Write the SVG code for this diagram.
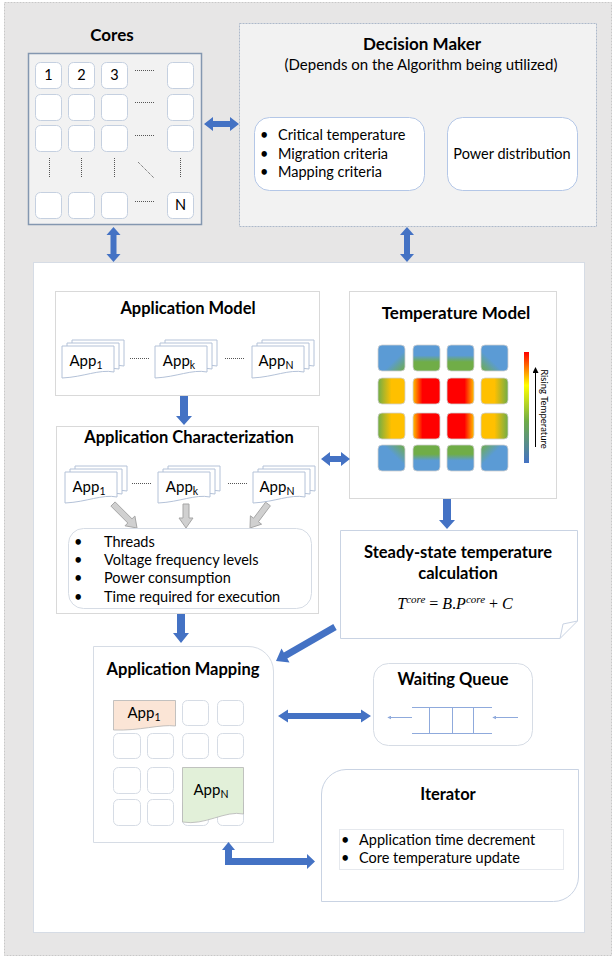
<svg xmlns="http://www.w3.org/2000/svg" width="616" height="961" viewBox="0 0 616 961">
<style>
text{font-family:Lato,"Open Sans","Liberation Sans",sans-serif;fill:#000}
.t{font-size:16.5px;font-weight:bold;text-anchor:middle}
.b{font-size:14.5px}
.c{text-anchor:middle}
.cell{fill:#fff;stroke:#c5d0e0;stroke-width:1}
.mcell{fill:#fff;stroke:#d6dce5;stroke-width:1}
.doc{fill:#fff;stroke:#b4c2d8;stroke-width:1}
.dot{stroke:#555;stroke-width:1;stroke-dasharray:1 1;fill:none}
.arr{fill:#4472c4}
.garr{fill:#d0d0d0;stroke:#a6a6a6;stroke-width:1}
.tc{stroke:#d0d0d0;stroke-width:0.8}
.q{stroke:#8faadc;stroke-width:1;fill:none}
</style>
<defs>
<linearGradient id="gTL" x1="0" y1="0" x2="1" y2="1"><stop offset="0.6" stop-color="#5b9bd5"/><stop offset="1" stop-color="#70ad47"/></linearGradient>
<linearGradient id="gTR" x1="1" y1="0" x2="0" y2="1"><stop offset="0.6" stop-color="#5b9bd5"/><stop offset="1" stop-color="#70ad47"/></linearGradient>
<linearGradient id="gBL" x1="0" y1="1" x2="1" y2="0"><stop offset="0.6" stop-color="#5b9bd5"/><stop offset="1" stop-color="#70ad47"/></linearGradient>
<linearGradient id="gBR" x1="1" y1="1" x2="0" y2="0"><stop offset="0.6" stop-color="#5b9bd5"/><stop offset="1" stop-color="#70ad47"/></linearGradient>
<linearGradient id="gTop" x1="0" y1="0" x2="0" y2="1"><stop offset="0.4" stop-color="#5b9bd5"/><stop offset="0.65" stop-color="#70ad47"/></linearGradient>
<linearGradient id="gBot" x1="0" y1="0" x2="0" y2="1"><stop offset="0.35" stop-color="#70ad47"/><stop offset="0.6" stop-color="#5b9bd5"/></linearGradient>
<linearGradient id="gGY" x1="0" y1="0" x2="1" y2="0"><stop offset="0" stop-color="#70ad47"/><stop offset="0.5" stop-color="#ffc000"/></linearGradient>
<linearGradient id="gYG" x1="0" y1="0" x2="1" y2="0"><stop offset="0.5" stop-color="#ffc000"/><stop offset="1" stop-color="#70ad47"/></linearGradient>
<linearGradient id="gOR" x1="0" y1="0" x2="1" y2="0"><stop offset="0" stop-color="#ffc000"/><stop offset="0.35" stop-color="#ff0000"/></linearGradient>
<linearGradient id="gRO" x1="0" y1="0" x2="1" y2="0"><stop offset="0.65" stop-color="#ff0000"/><stop offset="1" stop-color="#ffc000"/></linearGradient>
<linearGradient id="gBar" x1="0" y1="0" x2="0" y2="1"><stop offset="0" stop-color="#ff0000"/><stop offset="0.3" stop-color="#ffff00"/><stop offset="0.62" stop-color="#70ad47"/><stop offset="1" stop-color="#4472c4"/></linearGradient>
<marker id="mh" viewBox="0 0 6 6" refX="5" refY="3" markerWidth="6" markerHeight="6" orient="auto"><path d="M0,0 L6,3 L0,6 Z" fill="#000"/></marker>
<marker id="mq" viewBox="0 0 6 6" refX="5" refY="3" markerWidth="4" markerHeight="4" orient="auto"><path d="M0,0 L6,3 L0,6 Z" fill="#8faadc"/></marker>
</defs>

<!-- outer background -->
<rect x="4.5" y="2.5" width="607" height="953" fill="#e7e6e6" stroke="#c8c8c8" stroke-dasharray="2 1"/>
<rect x="33.5" y="262.5" width="551" height="670" fill="#fff" stroke="#d6dce5"/>

<g id="cores">
<text class="t" x="112" y="41" style="font-size:17px">Cores</text>
<rect x="28.5" y="53.5" width="173" height="171" fill="#f2f2f2" stroke="#8497b0" stroke-width="1.5"/>
<rect class="cell" x="35.5" y="62.5" width="26" height="26" rx="5"/>
<rect class="cell" x="68.5" y="62.5" width="26" height="26" rx="5"/>
<rect class="cell" x="101.5" y="62.5" width="26" height="26" rx="5"/>
<rect class="cell" x="167.5" y="62.5" width="26" height="26" rx="5"/>
<rect class="cell" x="35.5" y="94.5" width="26" height="26" rx="5"/>
<rect class="cell" x="68.5" y="94.5" width="26" height="26" rx="5"/>
<rect class="cell" x="101.5" y="94.5" width="26" height="26" rx="5"/>
<rect class="cell" x="167.5" y="94.5" width="26" height="26" rx="5"/>
<rect class="cell" x="35.5" y="125.5" width="26" height="26" rx="5"/>
<rect class="cell" x="68.5" y="125.5" width="26" height="26" rx="5"/>
<rect class="cell" x="101.5" y="125.5" width="26" height="26" rx="5"/>
<rect class="cell" x="167.5" y="125.5" width="26" height="26" rx="5"/>
<rect class="cell" x="35.5" y="192.5" width="26" height="26" rx="5"/>
<rect class="cell" x="68.5" y="192.5" width="26" height="26" rx="5"/>
<rect class="cell" x="101.5" y="192.5" width="26" height="26" rx="5"/>
<rect class="cell" x="167.5" y="192.5" width="26" height="26" rx="5"/>
<text class="b c" x="48.5" y="80">1</text>
<text class="b c" x="81.5" y="80">2</text>
<text class="b c" x="114.5" y="80">3</text>
<text class="b c" x="180.5" y="210">N</text>
<path class="dot" d="M135,70.5 H155 M135,102.5 H155 M135,135.5 H155 M135,201.5 H155 M49.5,158 V178 M81.5,158 V178 M114.5,158 V178 M180.5,158 V178 M138,162 L154,178"/>
</g>

<g id="decision-maker">
<rect x="239.5" y="23.5" width="357" height="203" fill="#f2f2f2" stroke="#adb9ca" stroke-dasharray="2 1"/>
<text class="t" x="422" y="50" style="font-size:17px">Decision Maker</text>
<text class="b c" x="421" y="70" style="font-size:15px">(Depends on the Algorithm being utilized)</text>
<rect x="254.5" y="117.5" width="170" height="73" rx="15" fill="#fff" stroke="#b4c7e7"/>
<text class="b" x="260" y="140">•</text><text class="b" x="278" y="140">Critical temperature</text>
<text class="b" x="260" y="159">•</text><text class="b" x="278" y="159">Migration criteria</text>
<text class="b" x="260" y="177">•</text><text class="b" x="278" y="177">Mapping criteria</text>
<rect x="447.5" y="117.5" width="130" height="73" rx="15" fill="#fff" stroke="#b4c7e7"/>
<text class="b c" x="512" y="159">Power distribution</text>
</g>

<g id="application-model">
<rect x="55.5" y="291.5" width="264" height="104" fill="#fff" stroke="#d9d9d9"/>
<text class="t" x="188" y="314">Application Model</text>
<g transform="translate(62,346)">
<path class="doc" d="M10,-6 h52 v26 c-15,-3 -30,5 -52,4 z"/>
<path class="doc" d="M5,-3 h52 v26 c-15,-3 -30,5 -52,4 z"/>
<path class="doc" d="M0,0 h52 v26 c-15,-3 -30,5 -52,6 z"/>
<text class="b c" x="24" y="20" style="font-size:15px">App<tspan font-size="10.5" dy="3">1</tspan></text>
</g>
<g transform="translate(155,346)">
<path class="doc" d="M10,-6 h52 v26 c-15,-3 -30,5 -52,4 z"/>
<path class="doc" d="M5,-3 h52 v26 c-15,-3 -30,5 -52,4 z"/>
<path class="doc" d="M0,0 h52 v26 c-15,-3 -30,5 -52,6 z"/>
<text class="b c" x="24" y="20" style="font-size:15px">App<tspan font-size="10.5" dy="3">k</tspan></text>
</g>
<g transform="translate(252,346)">
<path class="doc" d="M10,-6 h52 v26 c-15,-3 -30,5 -52,4 z"/>
<path class="doc" d="M5,-3 h52 v26 c-15,-3 -30,5 -52,4 z"/>
<path class="doc" d="M0,0 h52 v26 c-15,-3 -30,5 -52,6 z"/>
<text class="b c" x="24" y="20" style="font-size:15px">App<tspan font-size="10.5" dy="3">N</tspan></text>
</g>
<path class="dot" d="M130,358.5 H149 M225,358.5 H244"/>
</g>

<g id="application-characterization">
<rect x="56.5" y="426.5" width="262" height="187" fill="#fff" stroke="#d9d9d9"/>
<text class="t" x="189" y="443">Application Characterization</text>
<g transform="translate(65,472)">
<path class="doc" d="M10,-6 h52 v25 c-15,-3 -30,5 -52,4 z"/>
<path class="doc" d="M5,-3 h52 v25 c-15,-3 -30,5 -52,4 z"/>
<path class="doc" d="M0,0 h52 v25 c-15,-3 -30,5 -52,6 z"/>
<text class="b c" x="24" y="20" style="font-size:15px">App<tspan font-size="10.5" dy="3">1</tspan></text>
</g>
<g transform="translate(158,472)">
<path class="doc" d="M10,-6 h52 v25 c-15,-3 -30,5 -52,4 z"/>
<path class="doc" d="M5,-3 h52 v25 c-15,-3 -30,5 -52,4 z"/>
<path class="doc" d="M0,0 h52 v25 c-15,-3 -30,5 -52,6 z"/>
<text class="b c" x="24" y="20" style="font-size:15px">App<tspan font-size="10.5" dy="3">k</tspan></text>
</g>
<g transform="translate(253,472)">
<path class="doc" d="M10,-6 h52 v25 c-15,-3 -30,5 -52,4 z"/>
<path class="doc" d="M5,-3 h52 v25 c-15,-3 -30,5 -52,4 z"/>
<path class="doc" d="M0,0 h52 v25 c-15,-3 -30,5 -52,6 z"/>
<text class="b c" x="24" y="20" style="font-size:15px">App<tspan font-size="10.5" dy="3">N</tspan></text>
</g>
<path class="dot" d="M132,483.5 H152 M228,483.5 H247"/>
<polygon class="garr" points="115.1,501.9 132,518.8 134.9,516 137,528 125,525.8 127.8,523 110.9,506.1"/>
<polygon class="garr" points="183,504 189,504 189,518 193,518 186,528 179,518 183,518"/>
<polygon class="garr" points="265.6,502.2 270.4,505.8 258.4,521.8 261.6,524.2 250,528 250.4,515.8 253.6,518.2"/>
<rect x="68.5" y="528.5" width="243" height="80" rx="15" fill="#fff" stroke="#d6dce5"/>
<text class="b" x="74" y="547">•</text><text class="b" x="104" y="547">Threads</text>
<text class="b" x="74" y="565">•</text><text class="b" x="104" y="565">Voltage frequency levels</text>
<text class="b" x="74" y="583">•</text><text class="b" x="104" y="583">Power consumption</text>
<text class="b" x="74" y="602">•</text><text class="b" x="104" y="602">Time required for execution</text>
</g>

<g id="temperature-model">
<rect x="349.5" y="291.5" width="207" height="207" fill="#fff" stroke="#d9d9d9"/>
<text class="t" x="456" y="319" style="font-size:17px">Temperature Model</text>
<rect class="tc" x="378" y="345" width="27" height="26" rx="4" fill="url(#gTL)"/>
<rect class="tc" x="413" y="345" width="27" height="26" rx="4" fill="url(#gTop)"/>
<rect class="tc" x="447" y="345" width="27" height="26" rx="4" fill="url(#gTop)"/>
<rect class="tc" x="481" y="345" width="27" height="26" rx="4" fill="url(#gTR)"/>
<rect class="tc" x="378" y="378" width="27" height="26" rx="4" fill="url(#gGY)"/>
<rect class="tc" x="413" y="378" width="27" height="26" rx="4" fill="url(#gOR)"/>
<rect class="tc" x="447" y="378" width="27" height="26" rx="4" fill="url(#gRO)"/>
<rect class="tc" x="481" y="378" width="27" height="26" rx="4" fill="url(#gYG)"/>
<rect class="tc" x="378" y="413" width="27" height="26" rx="4" fill="url(#gGY)"/>
<rect class="tc" x="413" y="413" width="27" height="26" rx="4" fill="url(#gOR)"/>
<rect class="tc" x="447" y="413" width="27" height="26" rx="4" fill="url(#gRO)"/>
<rect class="tc" x="481" y="413" width="27" height="26" rx="4" fill="url(#gYG)"/>
<rect class="tc" x="378" y="445" width="27" height="26" rx="4" fill="url(#gBL)"/>
<rect class="tc" x="413" y="445" width="27" height="26" rx="4" fill="url(#gBot)"/>
<rect class="tc" x="447" y="445" width="27" height="26" rx="4" fill="url(#gBot)"/>
<rect class="tc" x="481" y="445" width="27" height="26" rx="4" fill="url(#gBR)"/>
<rect x="524" y="352" width="5" height="111" fill="url(#gBar)"/>
<line x1="535.5" y1="447" x2="535.5" y2="368" stroke="#000" stroke-width="1" marker-end="url(#mh)"/>
<text x="541" y="409" transform="rotate(90 541 409)" class="c" style="font-size:9.5px">Rising Temperature</text>
</g>

<g id="steady-state">
<path d="M340.5,530.5 H577.5 V621 L560,638.5 H340.5 Z" fill="#fff" stroke="#c9d3e3"/>
<path d="M560,638.5 L563,624 L577.5,621" fill="none" stroke="#c9d3e3"/>
<text class="t" x="458" y="558">Steady-state temperature</text>
<text class="t" x="458" y="579">calculation</text>
<text class="c" x="455" y="609" style="font-family:'Liberation Serif','DejaVu Serif',serif;font-size:16px"><tspan font-style="italic">T</tspan><tspan font-size="11" font-style="italic" dy="-6">core</tspan><tspan dy="6"> = </tspan><tspan font-style="italic">B</tspan>.<tspan font-style="italic">P</tspan><tspan font-size="11" font-style="italic" dy="-6">core</tspan><tspan dy="6"> + </tspan><tspan font-style="italic">C</tspan></text>
</g>

<g id="application-mapping">
<path d="M93.5,646.5 H248 A25,25 0 0 1 273.5,671 V842.5 H93.5 Z" fill="#fff" stroke="#d6dce5"/>
<text class="t" x="183" y="675">Application Mapping</text>
<rect class="mcell" x="182.5" y="700.5" width="26" height="25" rx="5"/>
<rect class="mcell" x="217.5" y="700.5" width="26" height="25" rx="5"/>
<rect class="mcell" x="113.5" y="733.5" width="27" height="25" rx="5"/>
<rect class="mcell" x="147.5" y="733.5" width="26" height="25" rx="5"/>
<rect class="mcell" x="182.5" y="733.5" width="26" height="25" rx="5"/>
<rect class="mcell" x="217.5" y="733.5" width="26" height="25" rx="5"/>
<rect class="mcell" x="113.5" y="767.5" width="27" height="26" rx="5"/>
<rect class="mcell" x="147.5" y="767.5" width="26" height="26" rx="5"/>
<rect class="mcell" x="113.5" y="799.5" width="27" height="26" rx="5"/>
<rect class="mcell" x="147.5" y="799.5" width="26" height="26" rx="5"/>
<rect class="mcell" x="182.5" y="799.5" width="26" height="26" rx="5"/>
<rect class="mcell" x="217.5" y="799.5" width="26" height="26" rx="5"/>
<path d="M113.5,700.5 H175.5 V726 C160,724 140,731 113.5,730 Z" fill="#fbe5d6" stroke="#b4b4b4" stroke-width="0.8"/>
<text class="b c" x="144" y="718" style="font-size:15px">App<tspan font-size="10.5" dy="3">1</tspan></text>
<path d="M182.5,767.5 H243.5 V814 C225,810 205,826 182.5,822 Z" fill="#e2f0d9" stroke="#b4b4b4" stroke-width="0.8"/>
<text class="b c" x="211" y="795" style="font-size:15px">App<tspan font-size="10.5" dy="3">N</tspan></text>
</g>

<g id="waiting-queue">
<rect x="373.5" y="663.5" width="159" height="82" rx="15" fill="#fff" stroke="#d6dce5"/>
<text class="t" x="453" y="685">Waiting Queue</text>
<path class="q" d="M412,707.5 H492 M412,733.5 H492 M429.5,707.5 V733.5 M452.5,707.5 V733.5 M473.5,707.5 V733.5"/>
<line class="q" x1="412" y1="717.5" x2="388" y2="717.5" marker-end="url(#mq)"/>
<line class="q" x1="518" y1="717.5" x2="493" y2="717.5" marker-end="url(#mq)"/>
</g>

<g id="iterator">
<path d="M346,769.5 H578.5 V877 A25,25 0 0 1 553.5,901.5 H321.5 V794 A25,25 0 0 1 346,769.5 Z" fill="#fff" stroke="#c9d3e3"/>
<text class="t" x="448" y="800">Iterator</text>
<rect x="339.5" y="829.5" width="224" height="40" fill="#fff" stroke="#e6e9ee"/>
<text class="b" x="341" y="845">•</text><text class="b" x="359" y="845">Application time decrement</text>
<text class="b" x="341" y="863">•</text><text class="b" x="359" y="863">Core temperature update</text>
</g>

<g id="connectors">
<polygon class="arr" points="204,124 213,117 213,121 230,121 230,117 239,124 230,131 230,127 213,127 213,131"/>
<polygon class="arr" points="113.5,227 120.5,235 116.5,235 116.5,254 120.5,254 113.5,262 106.5,254 110.5,254 110.5,235 106.5,235"/>
<polygon class="arr" points="407,227 414,235 410,235 410,254 414,254 407,262 400,254 404,254 404,235 400,235"/>
<polygon class="arr" points="180,396 188,396 188,416 192,416 184,425 176,416 180,416"/>
<polygon class="arr" points="321,459 330,452 330,456 341,456 341,452 350,459 341,466 341,462 330,462 330,466"/>
<polygon class="arr" points="443,499 451,499 451,520 455,520 447,529 439,520 443,520"/>
<polygon class="arr" points="177,614 185,614 185,633 189,633 181,643 173,633 177,633"/>
<polygon class="arr" points="333.3,624 336.7,630 287.3,658.5 289.5,662.4 276,661 281.5,648.6 283.8,652.5"/>
<polygon class="arr" points="278,716 288,709.5 288,713 361,713 361,709.5 371,716 361,722.5 361,719 288,719 288,722.5"/>
<polygon class="arr" points="228.5,842 235,850 232,850 232,858 307,858 307,854 315,861.5 307,869 307,865 225,865 225,850 222,850"/>
</g>
</svg>
